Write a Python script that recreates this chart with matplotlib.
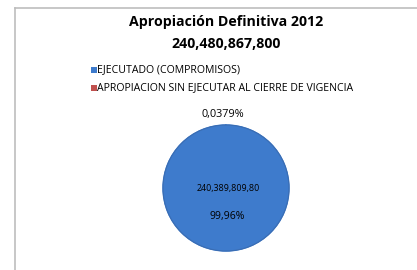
"""Pie chart: Apropiación Definitiva 2012."""

import matplotlib.pyplot as plt
from matplotlib.lines import Line2D
from matplotlib.patches import Rectangle

labels = ["EJECUTADO (COMPROMISOS)", "APROPIACION SIN EJECUTAR AL CIERRE DE VIGENCIA"]
values = [240389809800, 91058000]
total_text = "240,480,867,800"
executed_text = "240,389,809,80"
colors = ["#3E7BCC", "#C0504D"]

W, H = 417, 270
fig = plt.figure(figsize=(W / 100, H / 100), dpi=100)
plt.rcParams["font.family"] = ["Open Sans", "DejaVu Sans"]

# chart frame: only left and top edges are visible
fig.add_artist(Line2D([15 / W, 15 / W], [0, 1 - 8 / H], color="#BDBDBD", lw=1.2))
fig.add_artist(Line2D([15 / W, 1], [1 - 8 / H, 1 - 8 / H], color="#BDBDBD", lw=1.2))

fig.text(226 / W, 1 - 22 / H, "Apropiación Definitiva 2012", ha="center", va="center",
         fontsize=10.2, fontweight="bold")
fig.text(226 / W, 1 - 44 / H, total_text, ha="center", va="center",
         fontsize=10.2, fontweight="bold")

# legend
for i, (lab, c) in enumerate(zip(labels, colors)):
    y = 1 - (70 + 18 * i) / H
    fig.patches.append(Rectangle((91 / W, y - 3 / H), 6 / W, 6 / H, transform=fig.transFigure,
                                 facecolor=c, edgecolor="none"))
    fig.text(97 / W, y, lab, ha="left", va="center", fontsize=7.6)

# pie
r_px, half = 63, 68
ax = fig.add_axes([(226 - half) / W, (H - 188 - half) / H, 2 * half / W, 2 * half / H])
wedges, _ = ax.pie(values, colors=colors, startangle=90, counterclock=False,
                   wedgeprops=dict(linewidth=0))
# hide the antialiasing seam of the sliver
wedges[0].set_edgecolor(colors[0])
wedges[0].set_linewidth(1.0)
wedges[0].set_zorder(3)
ax.add_patch(plt.Circle((0, 0), 1, fill=False, edgecolor="#3A6DB3", lw=0.8, zorder=4))
lim = half / r_px
ax.set_xlim(-lim, lim)
ax.set_ylim(-lim, lim)
ax.set_aspect("equal")
ax.axis("off")

pcts = [v / sum(values) * 100 for v in values]
fig.text(223 / W, 1 - 115 / H, f"{pcts[1]:.4f}%".replace(".", ","), ha="center", va="center",
         fontsize=7.8)
fig.text(228 / W, 1 - 189 / H, executed_text, ha="center", va="center", fontsize=6.4)
fig.text(227 / W, 1 - 217 / H, f"{pcts[0]:.2f}%".replace(".", ","), ha="center", va="center",
         fontsize=7.6)

fig.savefig("out.png", dpi=100)
